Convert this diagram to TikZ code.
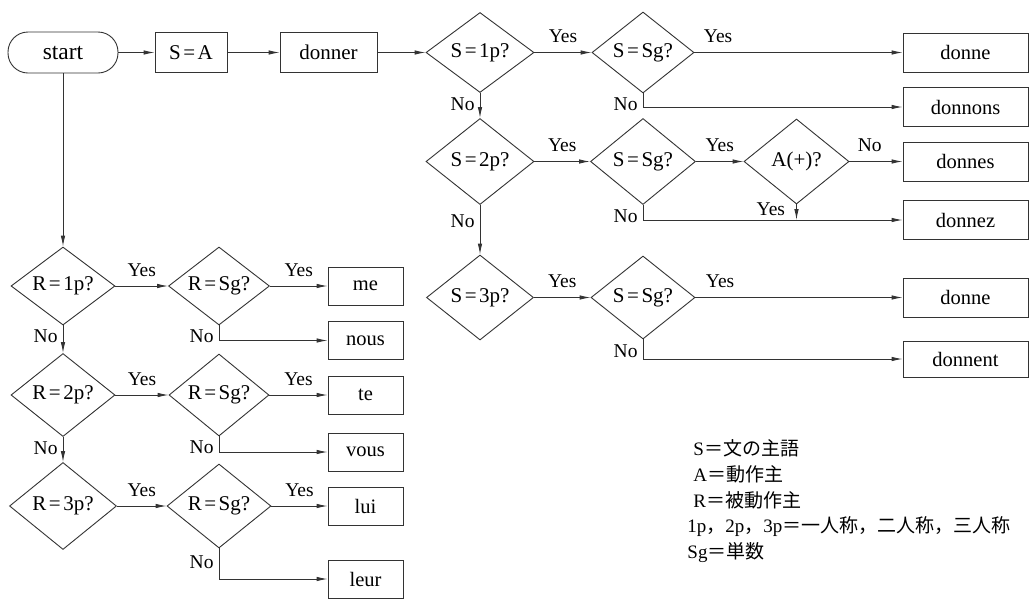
\documentclass[tikz,border=0pt]{standalone}
\usepackage{fontspec}
\setmainfont{Liberation Serif}
\newfontfamily\jpfont{Noto Sans CJK JP}
\usetikzlibrary{shapes.geometric,arrows.meta}
\newcommand\eqs{\kern2.5pt=\kern2.5pt}
\begin{document}
\begin{tikzpicture}[x=1pt,y=-1pt,
  line width=0.9pt,
  arr/.style={draw=black!80, -{Latex[length=11pt,width=4.5pt]}},
  term/.style={draw=black!80, rectangle, rounded corners=20pt, minimum width=110, minimum height=41, inner sep=0pt, font=\fontsize{23.5}{27}\selectfont},
  boxa/.style={draw=black!80, rectangle, minimum height=40, inner sep=0pt, font=\fontsize{21}{25}\selectfont},
  boxr/.style={draw=black!80, rectangle, minimum width=125, minimum height=39, inner sep=0pt, font=\fontsize{20.5}{24}\selectfont},
  boxl/.style={draw=black!80, rectangle, minimum width=75, minimum height=38, inner sep=0pt, font=\fontsize{20.5}{24}\selectfont},
  dec/.style={draw=black!80, diamond, aspect=1.5, inner sep=0pt, font=\fontsize{21}{25}\selectfont},
  lbl/.style={inner sep=0pt, font=\fontsize{19.5}{22}\selectfont},
  yes/.style={lbl, above=9pt},
  yesr/.style={lbl, anchor=south west, xshift=#1, yshift=9pt},
  no/.style={lbl, anchor=north east, xshift=-5pt, yshift=-4pt},
  leg/.style={inner sep=0pt, anchor=west, font=\fontsize{19}{22}\selectfont}
]
\fill[white] (0,0) rectangle (1031,598);
\useasboundingbox (0,0) rectangle (1031,598);

% top row
\node[term] (start) at (63,52.5) {start};
\node[boxa, minimum width=72] (sa) at (191,52.5) {S\eqs A};
\node[boxa, minimum width=97] (donner) at (328.5,52.5) {donner};
\node[dec, minimum width=108, minimum height=80] (s1) at (480,52.5) {S\eqs 1p?};
\node[dec, minimum width=102, minimum height=81] (sg1) at (643,52.5) {S\eqs Sg?};
\node[boxr] (donne1) at (965.5,52.5) {donne};
\node[boxr] (donnons) at (965.5,107) {donnons};

\node[dec, minimum width=108, minimum height=86] (s2) at (480,161.5) {S\eqs 2p?};
\node[dec, minimum width=105, minimum height=86] (sg2) at (643,161.5) {S\eqs Sg?};
\node[dec, minimum width=105, minimum height=85] (ap) at (796.5,161.5) {A(+)?};
\node[boxr] (donnes) at (965.5,161.5) {donnes};
\node[boxr] (donnez) at (965.5,220) {donnez};

\node[dec, minimum width=107, minimum height=85] (s3) at (480,297.5) {S\eqs 3p?};
\node[dec, minimum width=104, minimum height=83] (sg3) at (643,297.5) {S\eqs Sg?};
\node[boxr] (donne3) at (965.5,297.5) {donne};
\node[boxr, minimum height=36] (donnent) at (965.5,359) {donnent};

% left part
\node[dec, minimum width=104, minimum height=78] (r1) at (63,286) {R\eqs 1p?};
\node[dec, minimum width=101, minimum height=78] (rs1) at (219,286) {R\eqs Sg?};
\node[boxl] (me) at (365.5,286) {me};
\node[boxl] (nous) at (365.5,340.5) {nous};

\node[dec, minimum width=104, minimum height=83] (r2) at (63,395) {R\eqs 2p?};
\node[dec, minimum width=100, minimum height=82] (rs2) at (219,395) {R\eqs Sg?};
\node[boxl] (te) at (365.5,395) {te};
\node[boxl] (vous) at (365.5,452) {vous};

\node[dec, minimum width=107, minimum height=87] (r3) at (63,506) {R\eqs 3p?};
\node[dec, minimum width=104, minimum height=84] (rs3) at (219,506) {R\eqs Sg?};
\node[boxl] (lui) at (365.5,506) {lui};
\node[boxl] (leur) at (365.5,579) {leur};

% connectors top
\draw[arr] (start) -- (sa);
\draw[arr] (sa) -- (donner);
\draw[arr] (donner) -- (s1);
\draw[arr] (s1) -- node[yes]{Yes} (sg1);
\draw[arr] (sg1) -- (donne1) node[pos=0, yesr=9pt]{Yes};
\draw[arr] (sg1) |- (donnons) node[pos=0, no]{No};
\draw[arr] (s1) -- (s2) node[pos=0, no]{No};

\draw[arr] (s2) -- node[yes]{Yes} (sg2);
\draw[arr] (sg2) -- node[yes]{Yes} (ap);
\draw[arr] (ap) -- (donnes) node[pos=0, yesr=8pt]{No};
\draw[arr] (sg2) |- (donnez) node[pos=0, no]{No};
\coordinate (apj) at (ap.south |- donnez.west);
\draw[arr] (ap) -- (apj) node[pos=0, lbl, anchor=north east, xshift=-11pt, yshift=2pt]{Yes};
\draw[arr] (s2) -- (s3) node[pos=0, no, yshift=-5pt]{No};

\draw[arr] (s3) -- node[yes]{Yes} (sg3);
\draw[arr] (sg3) -- (donne3) node[pos=0, yesr=10pt]{Yes};
\draw[arr] (sg3) |- (donnent) node[pos=0, no, yshift=-1pt]{No};

% connectors left
\draw[arr] (start) -- (r1);
\draw[arr] (r1) -- node[yes]{Yes} (rs1);
\draw[arr] (rs1) -- node[yes]{Yes} (me);
\draw[arr] (rs1) |- (nous) node[pos=0, no]{No};
\draw[arr] (r1) -- (r2) node[pos=0, no]{No};

\draw[arr] (r2) -- node[yes]{Yes} (rs2);
\draw[arr] (rs2) -- node[yes]{Yes} (te);
\draw[arr] (rs2) |- (vous) node[pos=0, no]{No};
\draw[arr] (r2) -- (r3) node[pos=0, no]{No};

\draw[arr] (r3) -- node[yes]{Yes} (rs3);
\draw[arr] (rs3) -- node[yes]{Yes} (lui);
\draw[arr] (rs3) |- (leur) node[pos=0, no, yshift=-3pt]{No};

% legend
\node[leg] (l1) at (693,448) {S{\jpfont ＝文の主語}};
\node[leg] (l2) at (693,474) {A{\jpfont ＝動作主}};
\node[leg] (l3) at (693,500) {R{\jpfont ＝被動作主}};
\node[leg] (l4) at (687,527) {1p{\jpfont ，}2p{\jpfont ，}3p{\jpfont ＝一人称，二人称，三人称}};
\node[leg] (l5) at (687,553) {Sg{\jpfont ＝単数}};
\end{tikzpicture}
\end{document}
